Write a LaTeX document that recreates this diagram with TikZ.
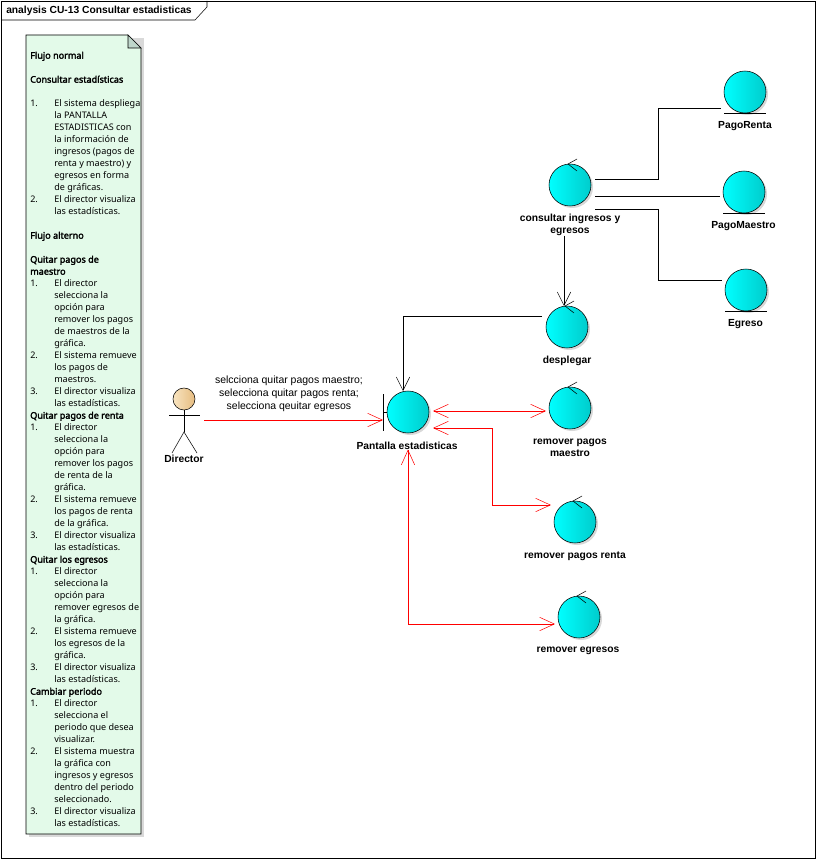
\documentclass[tikz,border=0pt]{standalone}
\usepackage{fontspec}
\setmainfont{Liberation Sans}
\newfontfamily\notefamily[AutoFakeBold=2.5]{Noto Sans}
\usetikzlibrary{arrows.meta,calc,shadows}
\definecolor{notefill}{HTML}{E3FAE9}
\definecolor{notefold}{HTML}{BFD6CB}
\definecolor{actorleft}{HTML}{F8E4C0}
\definecolor{actorright}{HTML}{E6BC80}
\definecolor{linkred}{HTML}{FF0000}
\def\li#1#2{\makebox[18pt][l]{#1}#2}
\def\ls#1{\hspace*{18pt}#1}
\tikzset{
	x=0.75pt, y=-0.75pt, line width=0.75pt,
	robust/.style={circle, draw, minimum size=31.5pt, inner sep=0pt, outer sep=0pt,
		left color=cyan!100, right color=cyan!80!black, shading angle=90,
		drop shadow={shadow xshift=1.5pt, shadow yshift=-1.5pt, fill=black!30}},
	lbl/.style={font=\fontsize{7.7}{9}\selectfont\bfseries, align=center, inner sep=0pt},
	msg/.style={font=\fontsize{7.85}{9.75}\selectfont, align=center, inner sep=0pt},
	notetext/.style={font=\notefamily\fontsize{6.8}{9}\selectfont, align=left, inner sep=0pt},
	link/.style={shorten >=2.25pt, shorten <=3pt},
	blackend/.style={-{Straight Barb[length=10pt,width=10pt]}},
	redlink/.style={color=linkred, {Straight Barb[length=11pt,width=10pt]}-{Straight Barb[length=11pt,width=10pt]}},
	redend/.style={color=linkred, -{Straight Barb[length=11pt,width=10pt]}},
}

\begin{document}
\begin{tikzpicture}
	\useasboundingbox (0,0) rectangle (816,859);
	\fill[white] (0,0) rectangle (816,859);
	
	% frame
	\draw (1,1) rectangle (815,858);
	\draw (1,20) -- (195,20) -- (207,7) -- (207,1);
	\node[lbl, anchor=west] (title) at (6,11) {analysis CU-13 Consultar estadisticas};
	
	% note
	\fill[black!15] (29,38) rectangle (144,837);
	\draw[fill=notefill] (26,35) -- (128,35) -- (141,48) -- (141,834) -- (26,834) -- cycle;
	\draw[fill=notefold] (128,35) -- (141,48) -- (128,48) -- cycle;
	\node[notetext, anchor=north west] (notebody) at (30,51.5) {%
		\textbf{Flujo normal}\\ \mbox{}\\
		\textbf{Consultar estadísticas}\\ \mbox{}\\
		\li{1.}{El sistema despliega}\\ \ls{la PANTALLA}\\ \ls{ESTADISTICAS con}\\ \ls{la información de}\\
		\ls{ingresos (pagos de}\\ \ls{renta y maestro) y}\\ \ls{egresos en forma}\\ \ls{de gráficas.}\\
		\li{2.}{El director visualiza}\\ \ls{las estadísticas.}\\ \mbox{}\\
		\textbf{Flujo alterno}\\ \mbox{}\\
		\textbf{Quitar pagos de}\\ \textbf{maestro}\\
		\li{1.}{El director}\\ \ls{selecciona la}\\ \ls{opción para}\\ \ls{remover los pagos}\\ \ls{de maestros de la}\\ \ls{gráfica.}\\
		\li{2.}{El sistema remueve}\\ \ls{los pagos de}\\ \ls{maestros.}\\
		\li{3.}{El director visualiza}\\ \ls{las estadísticas.}\\
		\textbf{Quitar pagos de renta}\\
		\li{1.}{El director}\\ \ls{selecciona la}\\ \ls{opción para}\\ \ls{remover los pagos}\\ \ls{de renta de la}\\ \ls{gráfica.}\\
		\li{2.}{El sistema remueve}\\ \ls{los pagos de renta}\\ \ls{de la gráfica.}\\
		\li{3.}{El director visualiza}\\ \ls{las estadísticas.}\\
		\textbf{Quitar los egresos}\\
		\li{1.}{El director}\\ \ls{selecciona la}\\ \ls{opción para}\\ \ls{remover egresos de}\\ \ls{la gráfica.}\\
		\li{2.}{El sistema remueve}\\ \ls{los egresos de la}\\ \ls{gráfica.}\\
		\li{3.}{El director visualiza}\\ \ls{las estadísticas.}\\
		\textbf{Cambiar periodo}\\
		\li{1.}{El director}\\ \ls{selecciona el}\\ \ls{periodo que desea}\\ \ls{visualizar.}\\
		\li{2.}{El sistema muestra}\\ \ls{la gráfica con}\\ \ls{ingresos y egresos}\\ \ls{dentro del periodo}\\ \ls{seleccionado.}\\
		\li{3.}{El director visualiza}\\ \ls{las estadísticas.}};
	
	% entities
	\node[robust] (pagorenta) at (745,92) {};
	\node[robust] (pagomaestro) at (744,192) {};
	\node[robust] (egreso) at (746,290) {};
	\draw (pagorenta.west |- pagorenta.south) -- (pagorenta.east |- pagorenta.south);
	\draw (pagomaestro.west |- pagomaestro.south) -- (pagomaestro.east |- pagomaestro.south);
	\draw (egreso.west |- egreso.south) -- (egreso.east |- egreso.south);
	\node[lbl] (pagorentalbl) at (745,126) {PagoRenta};
	\node[lbl] (pagomaestrolbl) at (743.5,226) {PagoMaestro};
	\node[lbl] (egresolbl) at (745.5,324) {Egreso};
	
	% controls
	\node[robust] (consultar) at (570,185) {};
	\node[robust] (desplegar) at (567,327) {};
	\node[robust] (maestro) at (570,408) {};
	\node[robust] (renta) at (575,522) {};
	\node[robust] (egresos) at (579,617) {};
	\foreach \n in {consultar,desplegar,maestro,renta,egresos}
		\draw ($(\n.north)+(7,-5)$) -- ($(\n.north)+(-2,0)$) -- ($(\n.north)+(7,7)$);
	\node[lbl] (consultarlbl) at (570,224.5) {consultar ingresos y\\egresos};
	\node[lbl] (desplegarlbl) at (567,361) {desplegar};
	\node[lbl] (maestrolbl) at (570,447.5) {remover pagos\\maestro};
	\node[lbl] (rentalbl) at (575,556) {remover pagos renta};
	\node[lbl] (egresoslbl) at (578,651) {remover egresos};
	
	% boundary
	\node[robust] (pantalla) at (408,412) {};
	\coordinate (pantallabar) at (383,412);
	\draw (383,394) -- (383,431);
	\draw (pantallabar) -- (pantalla.west);
	\node[lbl] (pantallalbl) at (407,445.5) {Pantalla estadisticas};
	
	% actor
	\draw[left color=actorleft, right color=actorright, shading angle=90] (184,399) circle (11) coordinate (directorhead);
	\draw (184,410) -- (184,432);
	\draw (169,415) -- (200,415);
	\draw (172,453) -- (184,432) -- (197,453);
	\node[lbl] (directorlbl) at (184,459) {Director};
	\coordinate (directorhand) at (204,420);
	\node[msg] (mensaje) at (289,393.5) {selcciona quitar pagos maestro;\\selecciona quitar pagos renta;\\selecciona qeuitar egresos};
	
	% black links
	\draw[link] ([yshift=4.5pt]consultar.east) -- ++(67,0) |- ([yshift=-12pt]pagorenta.west) ;
	\draw[link] ([yshift=-8.25pt]consultar.east) -- ([yshift=-3pt]pagomaestro.west);
	\draw[link] ([yshift=-18pt]consultar.east) -- ++(67,0) |- ([yshift=7.5pt]egreso.west);
	\draw[blackend] ([xshift=-4.5pt]consultarlbl.south) -- ([xshift=-2.25pt]desplegar.north);
	\draw[blackend, shorten <=3pt] ([yshift=8.25pt]desplegar.west) -| ([xshift=-3.75pt]pantalla.north);
	
	% red links
	\draw[redend] (directorhand) -- (pantallabar |- directorhand);
	\draw[redlink, link] ([yshift=0.75pt]pantalla.east) -- (maestro.west |- 0,411);
	\draw[redlink, link] ([yshift=-12pt]pantalla.east) -- ++(63,0) |- ([yshift=12.75pt]renta.west);
	\draw[redlink] (pantallalbl.south) ++(1,0) |- ([xshift=-2.25pt,yshift=-5.25pt]egresos.west);
\end{tikzpicture}
\end{document}
